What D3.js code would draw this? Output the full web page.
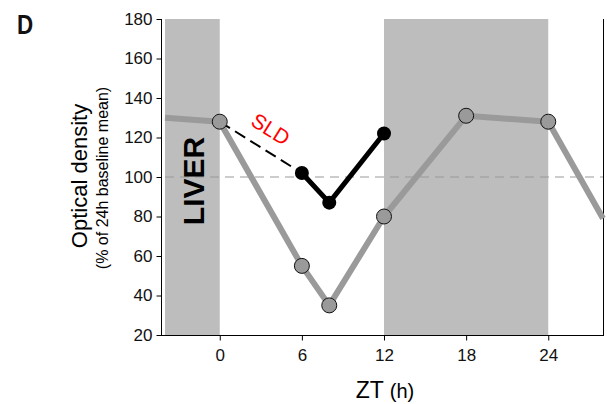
<!DOCTYPE html>
<html><head><meta charset="utf-8">
<script src="https://cdn.jsdelivr.net/npm/d3@7"></script>
<style>body{margin:0;background:#fff;}svg{display:block;font-family:"Liberation Sans",Arial,sans-serif;}</style>
</head><body>
<svg id="c" width="607" height="404"></svg>
<script>
const ctrlHours = [-4, 0, 6, 8, 12, 18, 24, 28];
const ctrlValues = [130, 128, 55, 35, 80, 131, 128, 79];
const ctrlMarked = [false, true, true, true, true, true, true, false];
const sldHours = [6, 8, 12];
const sldValues = [102, 87, 122];
const sldLink = [[0, 128], [6, 102]];
const darkPeriods = [[-4, 0], [12, 24]];
const xTicks = [0, 6, 12, 18, 24];
const yTicks = [20, 40, 60, 80, 100, 120, 140, 160, 180];
const baseline = 100;

const svg = d3.select("#c");
const x = d3.scaleLinear().domain([-4, 28]).range([165, 603]);
const y = d3.scaleLinear().domain([20, 180]).range([335, 19]);

// dark bands
svg.selectAll("rect.band").data(darkPeriods).enter().append("rect")
  .attr("x", d => x(d[0])).attr("width", d => x(d[1]) - x(d[0]))
  .attr("y", y(180)).attr("height", y(20) - y(180))
  .attr("fill", "#bdbdbd");

// right border
svg.append("line").attr("x1", 603.5).attr("x2", 603.5).attr("y1", y(180)).attr("y2", y(20))
  .attr("stroke", "#000").attr("stroke-width", 1);

// baseline dashed
svg.append("line").attr("x1", x(-4)).attr("x2", x(28)).attr("y1", y(baseline)).attr("y2", y(baseline))
  .attr("stroke", "#999").attr("stroke-width", 1).attr("stroke-dasharray", "9,6");

// axes
const yAxis = d3.axisLeft(y).tickValues(yTicks).tickSize(5).tickPadding(4);
const gy = svg.append("g").attr("transform", "translate(161.5,0)").call(yAxis);
gy.select(".domain").attr("d", `M0,${y(180)}V${y(20)}`);
gy.selectAll("text").attr("font-size", 17).attr("fill", "#111").attr("font-family", "Liberation Sans, Arial, sans-serif");

const xAxis = d3.axisBottom(x).tickValues(xTicks).tickSize(5).tickPadding(8);
const gx = svg.append("g").attr("transform", "translate(0,335.5)").call(xAxis);
gx.select(".domain").attr("d", `M160,0H604`);
gx.selectAll("text").attr("font-size", 17).attr("fill", "#111").attr("font-family", "Liberation Sans, Arial, sans-serif");

// control line
const line = d3.line().x(d => x(d[0])).y(d => y(d[1]));
const ctrl = ctrlHours.map((h, i) => [h, ctrlValues[i], ctrlMarked[i]]);
svg.append("path").datum(ctrl).attr("d", line).attr("fill", "none")
  .attr("stroke", "#9a9a9a").attr("stroke-width", 6).attr("stroke-linejoin", "round");

// SLD dashed link
svg.append("path").datum(sldLink).attr("d", line).attr("fill", "none")
  .attr("stroke", "#000").attr("stroke-width", 2).attr("stroke-dasharray", "12,6");

// SLD line
const sld = sldHours.map((h, i) => [h, sldValues[i]]);
svg.append("path").datum(sld).attr("d", line).attr("fill", "none")
  .attr("stroke", "#000").attr("stroke-width", 5).attr("stroke-linejoin", "round");

// control markers
svg.selectAll("circle.ctrl").data(ctrl.filter(d => d[2])).enter().append("circle")
  .attr("cx", d => x(d[0])).attr("cy", d => y(d[1])).attr("r", 7.5)
  .attr("fill", "#9a9a9a").attr("stroke", "#111").attr("stroke-width", 1);

// SLD markers
svg.selectAll("circle.sld").data(sld).enter().append("circle")
  .attr("cx", d => x(d[0])).attr("cy", d => y(d[1])).attr("r", 7)
  .attr("fill", "#000");

// SLD label
const mx = (x(sldLink[0][0]) + x(sldLink[1][0])) / 2 + 6;
const my = (y(sldLink[0][1]) + y(sldLink[1][1])) / 2 - 12;
svg.append("text").attr("transform", `translate(${mx},${my}) rotate(32)`)
  .attr("text-anchor", "middle").attr("font-size", 21).attr("fill", "#ff0000").text("SLD");

// LIVER
svg.append("text").attr("transform", `translate(204,181) rotate(-90)`)
  .attr("text-anchor", "middle").attr("font-size", 30).attr("font-weight", "bold")
  .attr("fill", "#000").text("LIVER");

// panel letter
svg.append("text").attr("transform", "translate(17,34) scale(0.8,1)").attr("font-size", 28).attr("font-weight", "bold")
  .attr("fill", "#111").text("D");

// y titles
svg.append("text").attr("transform", `translate(87,176) rotate(-90)`)
  .attr("text-anchor", "middle").attr("font-size", 22).attr("fill", "#000").text("Optical density");
svg.append("text").attr("transform", `translate(108,178) rotate(-90)`)
  .attr("text-anchor", "middle").attr("font-size", 16).attr("fill", "#000").text("(% of 24h baseline mean)");

// x title
const xt = svg.append("text").attr("x", 385).attr("y", 398).attr("text-anchor", "middle").attr("fill", "#000");
xt.append("tspan").attr("font-size", 23).text("ZT ");
xt.append("tspan").attr("font-size", 20).text("(h)");
</script>
</body></html>
